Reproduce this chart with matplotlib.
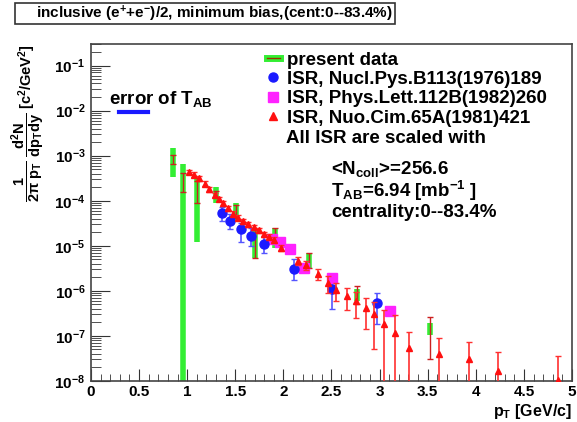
import matplotlib
matplotlib.use('Agg')
import matplotlib.pyplot as plt
from matplotlib.lines import Line2D
from matplotlib.patches import Rectangle
from matplotlib.ticker import MultipleLocator, LogLocator, NullFormatter

# --- data ---
# present data (systematic band in green, stat error in red)
pres_x = [0.85, 0.96, 1.1, 1.3, 1.51, 1.7, 1.91, 2.27, 2.77, 3.52]
pres_y = [8.1e-4, 2.8e-4, 1.6e-4, 1.4e-4, 6.3e-5, 1.26e-5, 1.6e-5, 4.7e-6, 7.9e-7, 1.4e-7]
pres_sys_lo = [3.4e-4, 3e-9, 1.2e-5, 9.1e-5, 3.6e-5, 5.4e-6, 9.1e-6, 3.1e-6, 6.0e-7, 1.05e-7]
pres_sys_hi = [1.5e-3, 6.6e-4, 3.2e-4, 2.0e-4, 9.1e-5, 2.5e-5, 2.5e-5, 6.9e-6, 1.1e-6, 1.95e-7]
pres_stat_lo = [6.6e-4, 1.6e-4, 9.1e-5, 1.2e-4, 4.2e-5, 5.4e-6, 1.2e-5, 3.2e-6, 5.0e-7, 3.1e-8]
pres_stat_hi = [1.05e-3, 4.2e-4, 2.75e-4, 1.65e-4, 8.1e-5, 2.4e-5, 2.5e-5, 6.9e-6, 1.26e-6, 2.6e-7]

# ISR, Nucl.Pys.B113(1976)189
nucl_x = [1.36, 1.45, 1.56, 1.66, 1.8, 2.11, 2.51, 2.97]
nucl_y = [5.4e-5, 3.6e-5, 2.3e-5, 1.66e-5, 1.1e-5, 3.1e-6, 1.1e-6, 5.4e-7]
nucl_lo = [3.6e-5, 2.4e-5, 1.2e-5, 1.0e-5, 6.9e-6, 1.74e-6, 4.0e-7, 1.86e-7]
nucl_hi = [7.1e-5, 5.0e-5, 3.2e-5, 2.5e-5, 1.66e-5, 5.1e-6, 1.5e-6, 9.1e-7]

# ISR, Phys.Lett.112B(1982)260
phys_x = [1.88, 1.96, 2.07, 2.21, 2.51, 3.11]
phys_y = [1.4e-5, 1.2e-5, 8.5e-6, 3.2e-6, 1.95e-6, 3.6e-7]

# ISR, Nuo.Cim.65A(1981)421
nuo_x = [1.02, 1.07, 1.12, 1.18, 1.23, 1.29, 1.33, 1.37, 1.42, 1.48, 1.53, 1.58,
         1.63, 1.69, 1.75, 1.8, 1.85, 1.9, 1.97, 2.15, 2.24, 2.36, 2.46, 2.55,
         2.66, 2.75, 2.86, 2.94, 3.05, 3.16, 3.31, 3.62, 3.93, 4.23, 4.85]
nuo_y = [4.37e-4, 3.8e-4, 3.16e-4, 2.4e-4, 1.82e-4, 1.35e-4, 1.1e-4, 8.7e-5,
         6.8e-5, 5.2e-5, 4.2e-5, 3.5e-5, 3.0e-5, 2.6e-5, 2.2e-5, 1.8e-5, 1.6e-5,
         1.35e-5, 9.1e-6, 4.7e-6, 3.8e-6, 2.4e-6, 1.5e-6, 1.05e-6, 7.8e-7, 6.0e-7,
         4.2e-7, 3.1e-7, 1.86e-7, 1.17e-7, 5.4e-8, 4.0e-8, 3.1e-8, 1.66e-8, 1.05e-8]
nuo_err = [5e-5, 4.5e-5, 3.8e-5, 3e-5, 2.2e-5, 1.6e-5, 1.3e-5, 1.1e-5, 8e-6,
           6.5e-6, 5.5e-6, 4.5e-6, 4e-6, 3.5e-6, 3e-6, 2.5e-6, 2.2e-6, 2e-6,
           1.5e-6, 1.0e-6, 9e-7, 7e-7, 6e-7, 4.5e-7, 4e-7, 3.5e-7, 2.8e-7, 2.6e-7,
           1.9e-7, 1.8e-7, 7e-8, 5e-8, 4.2e-8, 2.7e-8, 2.5e-8]

plt.rcParams['font.family'] = ['Liberation Sans', 'DejaVu Sans']
plt.rcParams['font.weight'] = 'bold'
plt.rcParams['axes.labelweight'] = 'bold'
plt.rcParams['mathtext.fontset'] = 'custom'
plt.rcParams['mathtext.rm'] = 'Liberation Sans:bold'
plt.rcParams['mathtext.it'] = 'Liberation Sans:bold'
plt.rcParams['mathtext.bf'] = 'Liberation Sans:bold'
plt.rcParams['mathtext.default'] = 'rm'

fig = plt.figure(figsize=(5.77, 4.22), dpi=100)
ax = fig.add_axes([0.1577, 0.0972, 0.8336, 0.7985])

# present data
ax.vlines(pres_x, pres_sys_lo, pres_sys_hi, color='#33ee33', lw=4.0, zorder=2)
stat_lo = [y - l for y, l in zip(pres_y, pres_stat_lo)]
stat_hi = [h - y for y, h in zip(pres_y, pres_stat_hi)]
ax.errorbar(pres_x, pres_y, yerr=[stat_lo, stat_hi], fmt='none', ecolor='#cc2020',
            elinewidth=1.0, capsize=2, capthick=1.0, zorder=3)

# ISR sets
nucl_dlo = [y - l for y, l in zip(nucl_y, nucl_lo)]
nucl_dhi = [h - y for y, h in zip(nucl_y, nucl_hi)]
ax.errorbar(nucl_x, nucl_y, yerr=[nucl_dlo, nucl_dhi], fmt='o', color='#1a1aff',
            ms=6.5, ecolor='#5555ff', elinewidth=1.2, capsize=2.5, zorder=4)
ax.plot(phys_x, phys_y, 's', color='#ff22ff', ms=6.5, zorder=4)
ax.errorbar(nuo_x, nuo_y, yerr=nuo_err, fmt='^', color='#ff1010', ms=5,
            ecolor='#ff3030', elinewidth=1.2, capsize=2.5, zorder=5)

ax.set_yscale('log')
ax.set_xlim(0, 5)
ax.set_ylim(1e-8, 0.3)

ax.xaxis.set_major_locator(MultipleLocator(0.5))
ax.xaxis.set_minor_locator(MultipleLocator(0.1))
ax.yaxis.set_major_locator(LogLocator(base=10, numticks=20))
ax.yaxis.set_minor_locator(LogLocator(base=10, subs=range(2, 10), numticks=20))
ax.yaxis.set_minor_formatter(NullFormatter())
ax.xaxis.set_major_formatter(matplotlib.ticker.FuncFormatter(lambda v, p: '%g' % v))
ax.tick_params(which='both', direction='in', top=False, right=False, labelsize=11,
               colors='#333333', labelcolor='black')
ax.tick_params(axis='x', which='major', length=9, pad=3)
ax.tick_params(axis='x', which='minor', length=5)
ax.tick_params(axis='y', which='major', length=14, pad=4)
ax.tick_params(axis='y', which='minor', length=7)
for s in ax.spines.values():
    s.set_color('#444444')
    s.set_linewidth(1.2)

ax.set_xlabel(r'p$_{T}$ [GeV/c]', loc='right', fontsize=11.5, labelpad=2)
ax.set_ylabel(r'$\dfrac{1}{2\pi\ p_{T}}\ \dfrac{d^{2}N}{dp_{T}dy}$ [c$^{2}$/GeV$^{2}$]',
              loc='top', fontsize=10.5)
ax.yaxis.set_label_coords(-0.092, 1.0)

# legend
h_pres = (Line2D([], [], color='#33ee33', lw=5), Line2D([], [], color='#993300', lw=1))
h_nucl = Line2D([], [], marker='o', ls='none', color='#1a1aff', ms=6.5)
h_phys = Line2D([], [], marker='s', ls='none', color='#ff22ff', ms=6.5)
h_nuo = Line2D([], [], marker='^', ls='none', color='#ff1010', ms=5.5)
leg = ax.legend([h_pres, h_nucl, h_phys, h_nuo],
                ['present data', 'ISR, Nucl.Pys.B113(1976)189',
                 'ISR, Phys.Lett.112B(1982)260', 'ISR, Nuo.Cim.65A(1981)421'],
                loc='upper left', bbox_to_anchor=(0.365, 0.978), frameon=False,
                fontsize=13.5, labelspacing=0.12, handlelength=0.7,
                handletextpad=0.4, borderpad=0, borderaxespad=0)
leg.set_zorder(10)

ax.text(0.405, 0.721, 'All ISR are scaled with', transform=ax.transAxes,
        fontsize=13.5, va='center')
ax.text(0.499, 0.630, r'<N$_{coll}$>=256.6', transform=ax.transAxes,
        fontsize=13.5, va='center')
ax.text(0.499, 0.565, r'T$_{AB}$=6.94 [mb$^{-1}$ ]', transform=ax.transAxes,
        fontsize=13.5, va='center')
ax.text(0.499, 0.499, 'centrality:0--83.4%', transform=ax.transAxes,
        fontsize=13.5, va='center')

# error of T_AB
ax.text(0.037, 0.838, r'error of T$_{AB}$', transform=ax.transAxes,
        fontsize=13.5, va='center')
ax.plot([0.058, 0.119], [0.797, 0.797], color='#1a1aff', lw=3, transform=ax.transAxes)

# title box
fig.patches.append(Rectangle((15 / 577, 1 - 24 / 422), 380 / 577, 21 / 422,
                             transform=fig.transFigure, facecolor='white',
                             edgecolor='#333333', lw=1.2))
fig.text(214 / 577, 1 - 13.5 / 422,
         r'inclusive (e$^{+}$+e$^{-}$)/2, minimum bias,(cent:0--83.4%)',
         ha='center', va='center', fontsize=11)

fig.savefig('out.png', dpi=100)
